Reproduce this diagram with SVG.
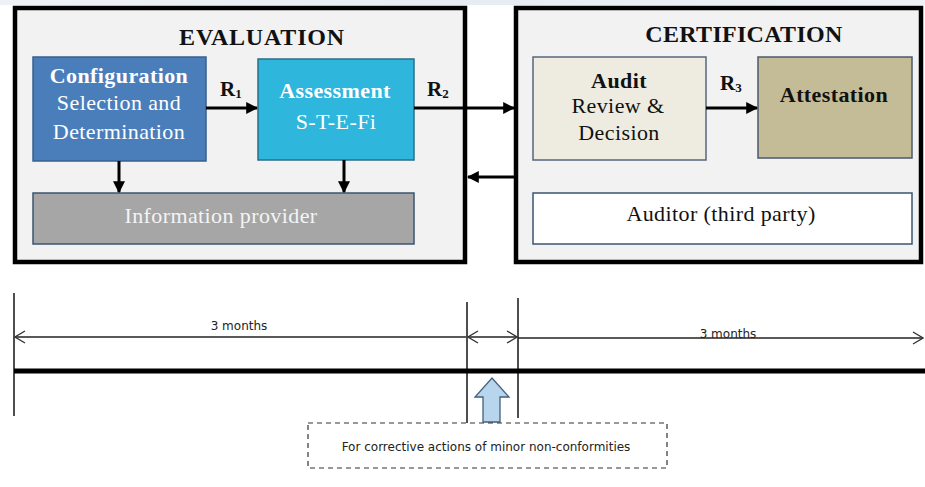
<svg xmlns="http://www.w3.org/2000/svg" width="925" height="487" viewBox="0 0 925 487">
  <defs>
    <linearGradient id="topStrip" x1="0" y1="0" x2="1" y2="0">
      <stop offset="0" stop-color="#eef2f6"/>
      <stop offset="0.5" stop-color="#e6ecf2"/>
      <stop offset="1" stop-color="#eef2f6"/>
    </linearGradient>
    <marker id="solidHead" viewBox="0 0 10 10" refX="9" refY="5" markerWidth="4" markerHeight="4" orient="auto" markerUnits="strokeWidth">
      <path d="M0,0 L10,5 L0,10 z" fill="#000"/>
    </marker>
    <marker id="openHead" viewBox="0 0 12 14" refX="11" refY="7" markerWidth="12" markerHeight="14" orient="auto-start-reverse" markerUnits="userSpaceOnUse">
      <path d="M1,1 L11,7 L1,13" fill="none" stroke="#333" stroke-width="1.3"/>
    </marker>
  </defs>
  <style>
    .panel { fill: #f2f2f2; stroke: #000; stroke-width: 4.5; }
    .title { font-family: "Liberation Serif", "Times New Roman", serif; font-weight: bold; font-size: 24px; fill: #111; text-anchor: middle; }
    .lbl { font-family: "Liberation Serif", "Times New Roman", serif; font-size: 22px; text-anchor: middle; letter-spacing: 0.4px; }
    .b { font-weight: bold; }
    .w { fill: #fff; }
    .k { fill: #111; }
    .rl { font-family: "Liberation Serif", "Times New Roman", serif; font-weight: bold; font-size: 21px; fill: #111; }
    .rs { font-size: 13px; }
    .conn { stroke: #000; stroke-width: 3; fill: none; }
    .tl { stroke: #222; stroke-width: 1.6; fill: none; }
    .dim { stroke: #222; stroke-width: 1.3; fill: none; }
    .small { font-family: "DejaVu Sans", Verdana, sans-serif; font-size: 12px; fill: #222; text-anchor: middle; }
  </style>

  <rect x="0" y="0" width="925" height="487" fill="#fff"/>
  <rect x="0" y="0" width="925" height="5" fill="url(#topStrip)"/>

  <!-- Evaluation panel -->
  <g id="evaluation">
    <rect class="panel" x="15" y="8" width="450" height="254"/>
    <text class="title" x="262" y="45" letter-spacing="0.8">EVALUATION</text>
  </g>

  <!-- Certification panel -->
  <g id="certification">
    <rect class="panel" x="516" y="8" width="405" height="254"/>
    <text class="title" x="744" y="42" letter-spacing="0.3">CERTIFICATION</text>
  </g>

  <g id="configuration">
    <rect x="33" y="57" width="173" height="104" fill="#4a7ebb" stroke="#3a5f8f" stroke-width="1.5"/>
    <text class="lbl b w" x="119" y="83">Configuration</text>
    <text class="lbl w" x="119" y="110">Selection and</text>
    <text class="lbl w" x="119" y="139">Determination</text>
  </g>

  <g id="assessment">
    <rect x="258" y="59" width="156" height="101" fill="#2fb6dc" stroke="#2b6f8a" stroke-width="1.5"/>
    <text class="lbl b w" x="335" y="98" letter-spacing="0.8">Assessment</text>
    <text class="lbl w" x="336" y="129" letter-spacing="2">S-T-E-Fi</text>
  </g>

  <g id="info-provider">
    <rect x="33" y="193" width="381" height="51" fill="#a6a6a6" stroke="#3d5470" stroke-width="1.5"/>
    <text class="lbl" x="221" y="223" fill="#f4f4f4" letter-spacing="1.4">Information provider</text>
  </g>

  <g id="audit">
    <rect x="533" y="57" width="173" height="103" fill="#eeece1" stroke="#55677c" stroke-width="1.5"/>
    <text class="lbl b k" x="619" y="88" letter-spacing="1.2">Audit</text>
    <text class="lbl k" x="618" y="113">Review &amp;</text>
    <text class="lbl k" x="619" y="140">Decision</text>
  </g>

  <g id="attestation">
    <rect x="758" y="57" width="154" height="101" fill="#c4bc97" stroke="#4a5a6c" stroke-width="1.5"/>
    <text class="lbl b k" x="834" y="102" letter-spacing="0.6">Attestation</text>
  </g>

  <g id="auditor">
    <rect x="533" y="193" width="379" height="51" fill="#fff" stroke="#3d5470" stroke-width="1.5"/>
    <text class="lbl k" x="721" y="221" letter-spacing="1">Auditor (third party)</text>
  </g>

  <!-- Connectors between process blocks -->
  <g id="connectors">
    <path class="conn" d="M206,108 L257,108" marker-end="url(#solidHead)"/>
    <path class="conn" d="M414,108 L514,108" marker-end="url(#solidHead)"/>
    <path class="conn" d="M514,177 L468,177" marker-end="url(#solidHead)"/>
    <path class="conn" d="M706,108 L757,108" marker-end="url(#solidHead)"/>
    <path class="conn" d="M119,161 L119,192" marker-end="url(#solidHead)"/>
    <path class="conn" d="M344,160 L344,192" marker-end="url(#solidHead)"/>
    <text class="rl" x="220" y="96">R<tspan class="rs" dy="2">1</tspan></text>
    <text class="rl" x="427" y="96">R<tspan class="rs" dy="2">2</tspan></text>
    <text class="rl" x="720" y="90">R<tspan class="rs" dy="2">3</tspan></text>
  </g>

  <!-- Timeline -->
  <g id="timeline">
    <line class="tl" x1="14" y1="293" x2="14" y2="416"/>
    <line class="tl" x1="467" y1="302" x2="467" y2="423"/>
    <line class="tl" x1="518" y1="298" x2="518" y2="418"/>
    <line x1="14" y1="371" x2="925" y2="371" stroke="#000" stroke-width="5"/>
    <path class="dim" d="M15,337 L466,337" marker-start="url(#openHead)"/>
    <path class="dim" d="M468,337 L517,337" marker-start="url(#openHead)" marker-end="url(#openHead)"/>
    <path class="dim" d="M518,338 L923,338" marker-end="url(#openHead)"/>
    <text class="small" x="239" y="330">3 months</text>
    <text class="small" x="728" y="338">3 months</text>
  </g>

  <g id="corrective-note">
    <path d="M492,378 L509,397 L500,397 L500,422 L483,422 L483,397 L475,397 Z" fill="#b8d5ee" stroke="#44607c" stroke-width="1.3"/>
    <rect x="308" y="423" width="359" height="45" fill="#fff" stroke="#333" stroke-width="1.2" stroke-dasharray="5,4"/>
    <text class="small" x="486" y="451">For corrective actions of minor non-conformities</text>
  </g>
</svg>
